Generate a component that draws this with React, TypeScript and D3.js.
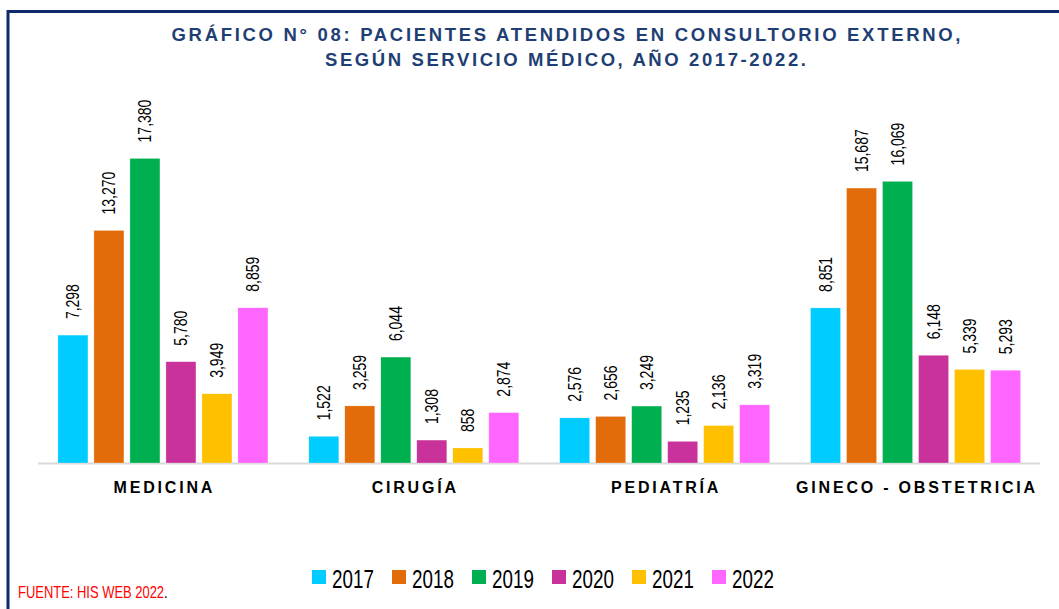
import React from "react";
import * as d3 from "d3";

const categories = ["MEDICINA", "CIRUGÍA", "PEDIATRÍA", "GINECO - OBSTETRICIA"];
const years = ["2017", "2018", "2019", "2020", "2021", "2022"];
const v2017 = [7298, 1522, 2576, 8851];
const v2018 = [13270, 3259, 2656, 15687];
const v2019 = [17380, 6044, 3249, 16069];
const v2020 = [5780, 1308, 1235, 6148];
const v2021 = [3949, 858, 2136, 5339];
const v2022 = [8859, 2874, 3319, 5293];
const seriesValues = [v2017, v2018, v2019, v2020, v2021, v2022];
const colors = ["#00CCFF", "#E36C0A", "#00B050", "#C8329A", "#FFC000", "#FF66FF"];

const W = 1059;
const H = 609;
const FONT = "'Liberation Sans', Arial, sans-serif";

export default function App() {
  const x0 = d3.scaleBand<string>().domain(categories).range([37.5, 1041]).padding(0);
  const y = d3.scaleLinear().domain([0, 20000]).range([463, 112.5]);
  const fmt = d3.format(",");

  return (
    <svg width={W} height={H} style={{ position: "absolute", left: 0, top: 0, background: "#fff" }}>
      {/* frame */}
      <path d={`M8,${H} L8,11.5 L${W},11.5`} fill="none" stroke="#0E2A6B" strokeWidth={3} />
      {/* title */}
      <g fontFamily={FONT} fontWeight="bold" fontSize={18.5} fill="#1F3F74" textAnchor="middle">
        <text x={566} y={41} textLength={789} lengthAdjust="spacing">
          GRÁFICO N° 08: PACIENTES ATENDIDOS EN CONSULTORIO EXTERNO,
        </text>
        <text x={565.5} y={65.5} textLength={481} lengthAdjust="spacing">
          SEGÚN SERVICIO MÉDICO, AÑO 2017-2022.
        </text>
      </g>
      {/* baseline */}
      <line x1={38} x2={1040} y1={463.5} y2={463.5} stroke="#D9D9D9" strokeWidth={2} />
      {/* bars */}
      {categories.map((cat, ci) => {
        const c = (x0(cat) as number) + x0.bandwidth() / 2;
        const x1 = d3.scaleBand<string>().domain(years).range([c - 105, c + 105]).paddingInner(1 / 6);
        return (
          <g key={cat}>
            {years.map((yr, si) => {
              const v = seriesValues[si][ci];
              const bx = x1(yr) as number;
              const bw = x1.bandwidth();
              const top = y(v);
              return (
                <g key={yr}>
                  <rect x={bx} y={top} width={bw} height={y(0) - top} fill={colors[si]} stroke="#ffffff" strokeOpacity={0.5} strokeWidth={0.5} />
                  <text
                    transform={`translate(${bx + bw / 2},${top - 16}) rotate(-90) scale(0.8,1)`}
                    fontFamily={FONT}
                    fontSize={17.5}
                    fill="#000"
                    dominantBaseline="central"
                  >
                    {fmt(v)}
                  </text>
                </g>
              );
            })}
            <text
              x={c + 1.4}
              y={492.7}
              textAnchor="middle"
              fontFamily={FONT}
              fontWeight="bold"
              fontSize={16}
              letterSpacing={2.8}
              fill="#000"
            >
              {cat}
            </text>
          </g>
        );
      })}
      {/* legend */}
      {years.map((yr, i) => (
        <g key={yr}>
          <rect x={312 + i * 80} y={570} width={14} height={14} fill={colors[i]} />
          <text
            transform={`translate(${332 + i * 80},587.5) scale(0.71,1)`}
            fontFamily={FONT}
            fontSize={26.5}
            fill="#000"
          >
            {yr}
          </text>
        </g>
      ))}
      {/* source */}
      <text transform="translate(18,598) scale(0.81,1)" fontFamily={FONT} fontSize={16}>
        <tspan fill="#FF0000">FUENTE: HIS WEB 2022</tspan>
        <tspan fill="#000">.</tspan>
      </text>
    </svg>
  );
}
